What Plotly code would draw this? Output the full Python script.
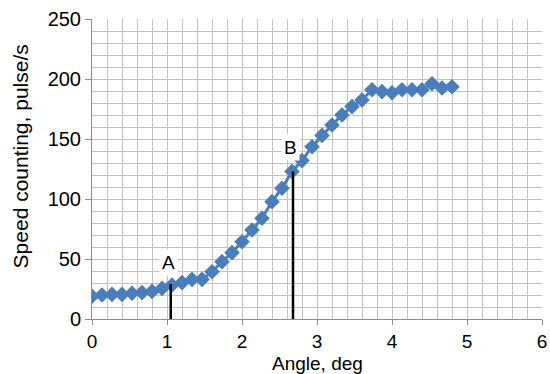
import plotly.graph_objects as go

# Data
angle_deg = [round(i * 4.8 / 36, 4) for i in range(37)]
speed_pulse_s = [19, 20, 20.5, 20.5, 21.4, 22, 23, 25.5, 28.3, 30.3, 33, 33,
                 39.4, 47.8, 55.3, 64.4, 74.2, 84, 97.8, 109, 123, 132, 143.6,
                 153, 161.7, 170, 177, 182.5, 191, 189.5, 188.5, 191, 191, 191,
                 196, 192.5, 193.5]

mark_labels = ["A", "B"]
mark_x = [1.05, 2.68]
mark_y = [29, 123]
label_y = [47, 143]

x_ticks = [0, 1, 2, 3, 4, 5, 6]
y_ticks = [0, 50, 100, 150, 200, 250]

blue = "#4a7ebb"
grid = "#c2c2c2"
axis_col = "#8c8c8c"
font = "Liberation Sans, Arial, sans-serif"

fig = go.Figure()

fig.add_trace(go.Scatter(
    x=angle_deg, y=speed_pulse_s, mode="lines+markers",
    line=dict(color=blue, width=3),
    marker=dict(symbol="diamond", size=12, color=blue),
    showlegend=False, hoverinfo="skip"))

for lab, mx, my, ly in zip(mark_labels, mark_x, mark_y, label_y):
    fig.add_trace(go.Scatter(
        x=[mx, mx], y=[0, my], mode="lines",
        line=dict(color="black", width=2.5),
        showlegend=False, hoverinfo="skip"))
    fig.add_annotation(x=mx - 0.03, y=ly, text=lab, showarrow=False,
                       bgcolor="white", font=dict(size=19, color="black", family=font),
                       borderpad=2)

# Axis titles placed as paper annotations
fig.add_annotation(xref="paper", yref="paper", x=0.5, y=0, yshift=-44,
                   xanchor="center", yanchor="middle", showarrow=False,
                   text="Angle, deg", font=dict(size=19, color="black", family=font))
fig.add_annotation(xref="paper", yref="paper", x=0, xshift=-72, y=0.542,
                   xanchor="center", yanchor="middle", showarrow=False, textangle=-90,
                   text="Speed counting, pulse/s", font=dict(size=21, color="black", family=font))

fig.update_layout(
    width=550, height=374,
    margin=dict(l=92, r=8, t=19, b=55),
    paper_bgcolor="white", plot_bgcolor="white",
    font=dict(family=font, size=20, color="black"),
    xaxis=dict(
        range=[0, 6], tickvals=x_ticks, ticktext=[str(v) for v in x_ticks],
        showgrid=True, gridcolor=grid, gridwidth=1,
        minor=dict(dtick=0.2, showgrid=True, gridcolor=grid, gridwidth=1),
        showline=True, linecolor=axis_col, linewidth=1,
        ticks="outside", ticklen=5, tickcolor=axis_col,
        tickfont=dict(size=19), zeroline=False, automargin=False,
    ),
    yaxis=dict(
        range=[0, 250], tickvals=y_ticks, ticktext=[str(v) for v in y_ticks],
        showgrid=True, gridcolor=grid, gridwidth=1,
        minor=dict(dtick=10, showgrid=True, gridcolor=grid, gridwidth=1),
        showline=True, linecolor=axis_col, linewidth=1,
        ticks="outside", ticklen=6, tickcolor=axis_col,
        tickfont=dict(size=20), zeroline=False, automargin=False,
    ),
)

# remove the default page margin so the 550x374 figure fills the window exactly
fig.write_html("out.html",
               config={"displayModeBar": False},
               post_script="document.body.style.margin='0';document.body.style.overflow='hidden';")
